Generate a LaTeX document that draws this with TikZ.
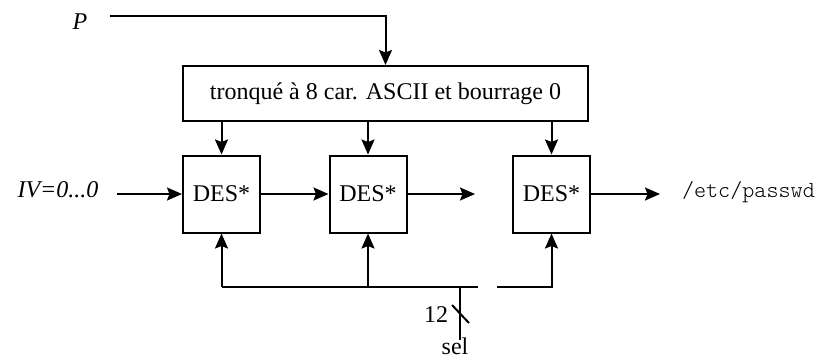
\documentclass[tikz,border=0pt]{standalone}
\usepackage{fontspec}
\setmainfont{Liberation Serif}
\setmonofont{Latin Modern Mono Light}
\usetikzlibrary{arrows.meta}
\begin{document}
\begin{tikzpicture}[x=1pt,y=-1pt,
  line width=2pt,
  arr/.style={-{Stealth[length=15pt,width=13pt,inset=2.5pt]}},
  desbox/.style={draw,minimum width=77pt,minimum height=77pt,inner sep=0pt,font=\fontsize{24}{28}\selectfont},
  lbl/.style={inner sep=0pt,font=\fontsize{24}{28}\selectfont}]
\useasboundingbox (0,0) rectangle (829,360);
% nodes
\node[lbl] (P) at (80,22) {\itshape P};
\node[draw,minimum width=405pt,minimum height=55pt,inner sep=0pt,font=\fontsize{24}{28}\selectfont] (trunc) at (385.5,93.5) {tronqué à 8 car. ASCII et bourrage 0};
\node[desbox] (d1) at (221.5,194) {DES*};
\node[desbox] (d2) at (368,194) {DES*};
\node[desbox] (d3) at (551.5,194) {DES*};
\node[lbl] (iv) at (58,190) {\itshape IV=0...0};
\node[lbl,anchor=west,font=\fontsize{23}{27}\selectfont\ttfamily] (pw) at (681,192) {/etc/passwd};
\node[lbl] (twelve) at (436,315) {12};
\node[lbl,anchor=north] (sel) at (455,337) {sel};
% coordinates
\coordinate (pstart) at (110,16);
\coordinate (ivstart) at (117,194);
\coordinate (d2out) at (475,194);
\coordinate (d3out) at (660,194);
\coordinate (busL) at (221.5,287);
\coordinate (gapL) at (478,287);
\coordinate (gapR) at (497,287);
\coordinate (busR) at (551.5,287);
\coordinate (selJ) at (460,287);
\coordinate (selE) at (460,340);
\coordinate (sl1) at (452,305);
\coordinate (sl2) at (469,323);
% connectors
\draw[arr] (pstart) -| (trunc.north);
\draw[arr] (trunc.south -| d1.north) -- (d1.north);
\draw[arr] (trunc.south -| d2.north) -- (d2.north);
\draw[arr] (trunc.south -| d3.north) -- (d3.north);
\draw[arr] (ivstart) -- (d1.west);
\draw[arr] (d1.east) -- (d2.west);
\draw[arr] (d2.east) -- (d2out);
\draw[arr] (d3.east) -- (d3out);
\draw (busL) -- (gapL);
\draw[arr] (busL) -- (d1.south);
\draw[arr] (busL -| d2.south) -- (d2.south);
\draw[arr] (gapR) -- (busR) -- (d3.south);
\draw (selJ) -- (selE);
\draw (sl1) -- (sl2);
\end{tikzpicture}
\end{document}
